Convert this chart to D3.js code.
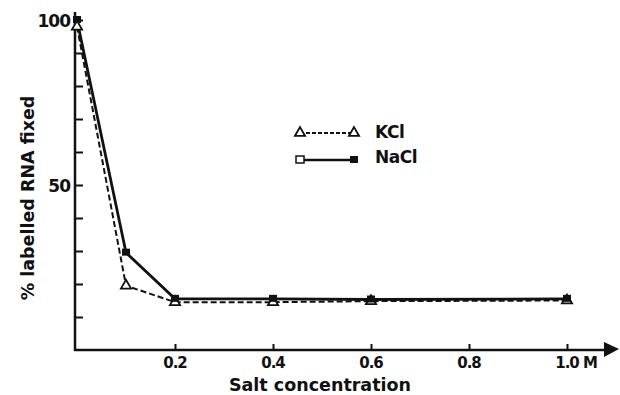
<!DOCTYPE html>
<html>
<head>
<meta charset="utf-8">
<script src="https://cdn.jsdelivr.net/npm/d3@7"></script>
<style>
  body { margin: 0; background: #fff; }
  svg text { font-family: "DejaVu Sans", sans-serif; font-weight: bold; fill: #111; }
</style>
</head>
<body>
<svg id="chart" width="620" height="395"></svg>
<script>
const concentrations = [0, 0.1, 0.2, 0.4, 0.6, 1.0];
const kclValues = [98, 19.5, 14.5, 14.5, 14.8, 15];
const naclValues = [100, 29.5, 15.5, 15.5, 15.3, 15.5];
const xTickValues = [0.2, 0.4, 0.6, 0.8, 1.0];
const xTickLabels = ['0.2', '0.4', '0.6', '0.8', '1.0'];
const yTickValues = [10, 20, 30, 40, 50, 60, 70, 80, 90, 100];
const yTickLabels = { 50: '50', 100: '100' };

const svg = d3.select('#chart');
const x = d3.scaleLinear().domain([0, 1]).range([77, 567]);
const y = d3.scaleLinear().domain([0, 100]).range([350, 20]);
const ink = '#111';

// axes: y ticks point inward, x ticks point upward
const yAxis = d3.axisRight(y).tickValues(yTickValues).tickSize(8).tickFormat(() => '');
const gy = svg.append('g').attr('transform', 'translate(75,0)').call(yAxis);
gy.select('.domain').remove();
gy.selectAll('.tick line').attr('stroke', ink).attr('stroke-width', 2);
svg.append('line').attr('x1', 75).attr('x2', 75).attr('y1', 12).attr('y2', 351)
  .attr('stroke', ink).attr('stroke-width', 2.5);

const xAxis = d3.axisTop(x).tickValues(xTickValues).tickSize(6).tickFormat(() => '');
const gx = svg.append('g').attr('transform', 'translate(0,350)').call(xAxis);
gx.select('.domain').remove();
gx.selectAll('.tick line').attr('stroke', ink).attr('stroke-width', 2);
svg.append('line').attr('x1', 74).attr('x2', 608).attr('y1', 350).attr('y2', 350)
  .attr('stroke', ink).attr('stroke-width', 2.5);
svg.append('path').attr('d', 'M604,342 L619,349 L604,357 Z').attr('fill', ink);

// tick labels
svg.selectAll('.ylab').data(Object.keys(yTickLabels)).enter().append('text')
  .attr('x', 70).attr('y', d => y(+d) + 7).attr('text-anchor', 'end')
  .attr('font-size', 17).attr('letter-spacing', -1).text(d => yTickLabels[d]);
svg.selectAll('.xlab').data(xTickValues).enter().append('text')
  .attr('x', d => x(d)).attr('y', 368).attr('text-anchor', 'middle')
  .attr('font-size', 15).attr('letter-spacing', -1).text((d, i) => xTickLabels[i]);
svg.append('text').attr('x', x(1) + 16).attr('y', 368).attr('font-size', 15)
  .attr('letter-spacing', -1).text('M');

svg.append('text').attr('x', 320).attr('y', 391).attr('text-anchor', 'middle')
  .attr('font-size', 17.5).text('Salt concentration');
svg.append('text').attr('transform', 'translate(34,198) rotate(-90)')
  .attr('text-anchor', 'middle').attr('font-size', 17.5).text('% labelled RNA fixed');

// lines
const line = d3.line().x((d, i) => x(concentrations[i])).y(d => y(d));
svg.append('path').datum(kclValues).attr('d', line).attr('fill', 'none')
  .attr('stroke', ink).attr('stroke-width', 2).attr('stroke-dasharray', '6,3');
svg.append('path').datum(naclValues).attr('d', line).attr('fill', 'none')
  .attr('stroke', ink).attr('stroke-width', 2.8);

// markers
const tri = d3.symbol().type(d3.symbolTriangle).size(45);
svg.selectAll('.kcl').data(kclValues).enter().append('path')
  .attr('d', tri).attr('transform', (d, i) => `translate(${x(concentrations[i])},${y(d)})`)
  .attr('fill', '#fff').attr('stroke', ink).attr('stroke-width', 1.8);
svg.selectAll('.nacl').data(naclValues).enter().append('rect')
  .attr('x', (d, i) => x(concentrations[i]) - 4).attr('y', d => y(d) - 4)
  .attr('width', 8).attr('height', 7).attr('fill', ink);

// legend
const legend = svg.append('g');
legend.append('line').attr('x1', 300).attr('x2', 354).attr('y1', 133).attr('y2', 133)
  .attr('stroke', ink).attr('stroke-width', 1.8).attr('stroke-dasharray', '4,2');
legend.append('path').attr('d', tri).attr('transform', 'translate(300,133)')
  .attr('fill', '#fff').attr('stroke', ink).attr('stroke-width', 1.8);
legend.append('path').attr('d', tri).attr('transform', 'translate(354,133)')
  .attr('fill', '#fff').attr('stroke', ink).attr('stroke-width', 1.8);
legend.append('text').attr('x', 375).attr('y', 138).attr('font-size', 17)
  .attr('letter-spacing', -0.5).text('KCl');
legend.append('line').attr('x1', 300).attr('x2', 354).attr('y1', 160).attr('y2', 160)
  .attr('stroke', ink).attr('stroke-width', 2.5);
legend.append('rect').attr('x', 296).attr('y', 156).attr('width', 8).attr('height', 7)
  .attr('fill', '#fff').attr('stroke', ink).attr('stroke-width', 1.5);
legend.append('rect').attr('x', 350).attr('y', 156).attr('width', 8).attr('height', 7)
  .attr('fill', ink);
legend.append('text').attr('x', 375).attr('y', 163).attr('font-size', 17)
  .attr('letter-spacing', -0.5).text('NaCl');
</script>
</body>
</html>
